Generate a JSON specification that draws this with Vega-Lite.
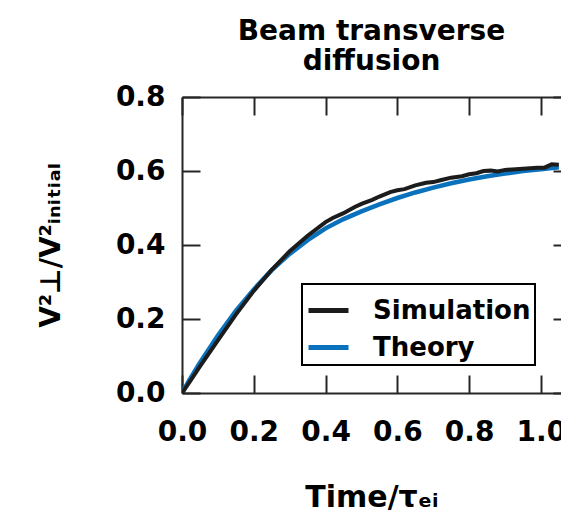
{
  "$schema": "https://vega.github.io/schema/vega-lite/v6.json",
  "width": 379,
  "height": 296,
  "autosize": {"type": "none"},
  "padding": {"left": 182, "top": 97, "right": 0, "bottom": 127},
  "background": "white",
  "config": {
    "view": {"stroke": null},
    "font": "DejaVu Sans",
    "axis": {
      "labelFont": "DejaVu Sans",
      "labelFontWeight": "bold",
      "labelFontSize": 28,
      "labelColor": "black",
      "labelOverlap": false,
      "labelFlush": false,
      "titleFont": "DejaVu Sans",
      "titleFontWeight": "bold",
      "titleFontSize": 28,
      "titleColor": "black",
      "tickColor": "#262626",
      "tickWidth": 2,
      "domainColor": "#262626",
      "domainWidth": 2,
      "grid": false
    },
    "legend": {
      "orient": "none",
      "legendX": 120,
      "legendY": 187,
      "strokeColor": "black",
      "strokeWidth": 2,
      "fillColor": "white",
      "padding": 4,
      "symbolType": "stroke",
      "symbolSize": 1600,
      "symbolStrokeWidth": 5,
      "labelFont": "DejaVu Sans",
      "labelFontSize": 26,
      "labelFontWeight": "bold",
      "labelColor": "black",
      "labelOffset": 22,
      "rowPadding": 1
    }
  },
  "title": {
    "text": ["Beam transverse", "diffusion"],
    "font": "DejaVu Sans",
    "fontSize": 28,
    "fontWeight": "bold",
    "lineHeight": 30,
    "offset": 7,
    "color": "black",
    "anchor": "middle"
  },
  "data": {
    "values": [
      {"t": 0, "v": 0, "series": "Theory"},
      {"t": 0.02, "v": 0.034, "series": "Theory"},
      {"t": 0.05, "v": 0.082, "series": "Theory"},
      {"t": 0.1, "v": 0.155, "series": "Theory"},
      {"t": 0.15, "v": 0.222, "series": "Theory"},
      {"t": 0.2, "v": 0.28, "series": "Theory"},
      {"t": 0.25, "v": 0.332, "series": "Theory"},
      {"t": 0.3, "v": 0.376, "series": "Theory"},
      {"t": 0.35, "v": 0.413, "series": "Theory"},
      {"t": 0.4, "v": 0.445, "series": "Theory"},
      {"t": 0.45, "v": 0.47, "series": "Theory"},
      {"t": 0.5, "v": 0.491, "series": "Theory"},
      {"t": 0.55, "v": 0.51, "series": "Theory"},
      {"t": 0.6, "v": 0.527, "series": "Theory"},
      {"t": 0.65, "v": 0.542, "series": "Theory"},
      {"t": 0.7, "v": 0.555, "series": "Theory"},
      {"t": 0.75, "v": 0.567, "series": "Theory"},
      {"t": 0.8, "v": 0.577, "series": "Theory"},
      {"t": 0.85, "v": 0.586, "series": "Theory"},
      {"t": 0.9, "v": 0.593, "series": "Theory"},
      {"t": 0.95, "v": 0.6, "series": "Theory"},
      {"t": 1.0, "v": 0.605, "series": "Theory"},
      {"t": 1.05, "v": 0.61, "series": "Theory"},
      {"t": 0, "v": 0, "series": "Simulation"},
      {"t": 0.02, "v": 0.028, "series": "Simulation"},
      {"t": 0.05, "v": 0.072, "series": "Simulation"},
      {"t": 0.1, "v": 0.142, "series": "Simulation"},
      {"t": 0.15, "v": 0.212, "series": "Simulation"},
      {"t": 0.2, "v": 0.276, "series": "Simulation"},
      {"t": 0.25, "v": 0.333, "series": "Simulation"},
      {"t": 0.3, "v": 0.383, "series": "Simulation"},
      {"t": 0.35, "v": 0.425, "series": "Simulation"},
      {"t": 0.4, "v": 0.462, "series": "Simulation"},
      {"t": 0.42, "v": 0.473, "series": "Simulation"},
      {"t": 0.45, "v": 0.486, "series": "Simulation"},
      {"t": 0.48, "v": 0.502, "series": "Simulation"},
      {"t": 0.5, "v": 0.511, "series": "Simulation"},
      {"t": 0.53, "v": 0.522, "series": "Simulation"},
      {"t": 0.55, "v": 0.531, "series": "Simulation"},
      {"t": 0.58, "v": 0.543, "series": "Simulation"},
      {"t": 0.6, "v": 0.548, "series": "Simulation"},
      {"t": 0.62, "v": 0.551, "series": "Simulation"},
      {"t": 0.65, "v": 0.561, "series": "Simulation"},
      {"t": 0.68, "v": 0.568, "series": "Simulation"},
      {"t": 0.7, "v": 0.57, "series": "Simulation"},
      {"t": 0.72, "v": 0.575, "series": "Simulation"},
      {"t": 0.75, "v": 0.582, "series": "Simulation"},
      {"t": 0.78, "v": 0.586, "series": "Simulation"},
      {"t": 0.8, "v": 0.591, "series": "Simulation"},
      {"t": 0.82, "v": 0.594, "series": "Simulation"},
      {"t": 0.84, "v": 0.6, "series": "Simulation"},
      {"t": 0.86, "v": 0.601, "series": "Simulation"},
      {"t": 0.88, "v": 0.599, "series": "Simulation"},
      {"t": 0.9, "v": 0.603, "series": "Simulation"},
      {"t": 0.93, "v": 0.605, "series": "Simulation"},
      {"t": 0.96, "v": 0.607, "series": "Simulation"},
      {"t": 0.99, "v": 0.609, "series": "Simulation"},
      {"t": 1.01, "v": 0.609, "series": "Simulation"},
      {"t": 1.03, "v": 0.618, "series": "Simulation"},
      {"t": 1.05, "v": 0.617, "series": "Simulation"}
    ]
  },
  "layer": [
    {
      "transform": [{"filter": "datum.series === 'Theory'"}],
      "mark": {"type": "line", "strokeWidth": 4.5, "clip": true},
      "encoding": {
        "x": {
          "field": "t", "type": "quantitative",
          "scale": {"domain": [0, 1.056], "nice": false, "zero": false},
          "axis": {"orient": "top", "labels": false, "title": null, "values": [0, 0.2, 0.4, 0.6, 0.8, 1.0], "tickSize": -18, "domain": true}
        },
        "y": {
          "field": "v", "type": "quantitative",
          "scale": {"domain": [0, 0.8], "nice": false},
          "axis": {"orient": "right", "labels": false, "title": null, "values": [0, 0.2, 0.4, 0.6, 0.8], "tickSize": -8, "domain": false}
        },
        "color": {
          "field": "series", "type": "nominal",
          "scale": {"domain": ["Simulation", "Theory"], "range": ["#1c1c1c", "#0a72bd"]},
          "legend": {"title": null}
        }
      }
    },
    {
      "transform": [{"filter": "datum.series === 'Simulation'"}],
      "mark": {"type": "line", "strokeWidth": 4, "clip": true},
      "encoding": {
        "x": {
          "field": "t", "type": "quantitative",
          "scale": {"domain": [0, 1.056], "nice": false, "zero": false},
          "axis": {"orient": "bottom", "format": ".1f", "values": [0, 0.2, 0.4, 0.6, 0.8, 1.0], "tickSize": -18, "labelPadding": 43, "title": "Time/τₑᵢ", "titleFontSize": 30, "titlePadding": 36, "domain": true}
        },
        "y": {
          "field": "v", "type": "quantitative",
          "scale": {"domain": [0, 0.8], "nice": false},
          "axis": {"orient": "left", "format": ".1f", "values": [0, 0.2, 0.4, 0.6, 0.8], "tickSize": -18, "labelPadding": 35, "title": "V²⊥/V²ᵢₙᵢₜᵢₐₗ", "titlePadding": 50, "domain": true}
        },
        "color": {"field": "series", "type": "nominal"}
      }
    }
  ],
  "resolve": {"axis": {"x": "independent", "y": "independent"}}
}
